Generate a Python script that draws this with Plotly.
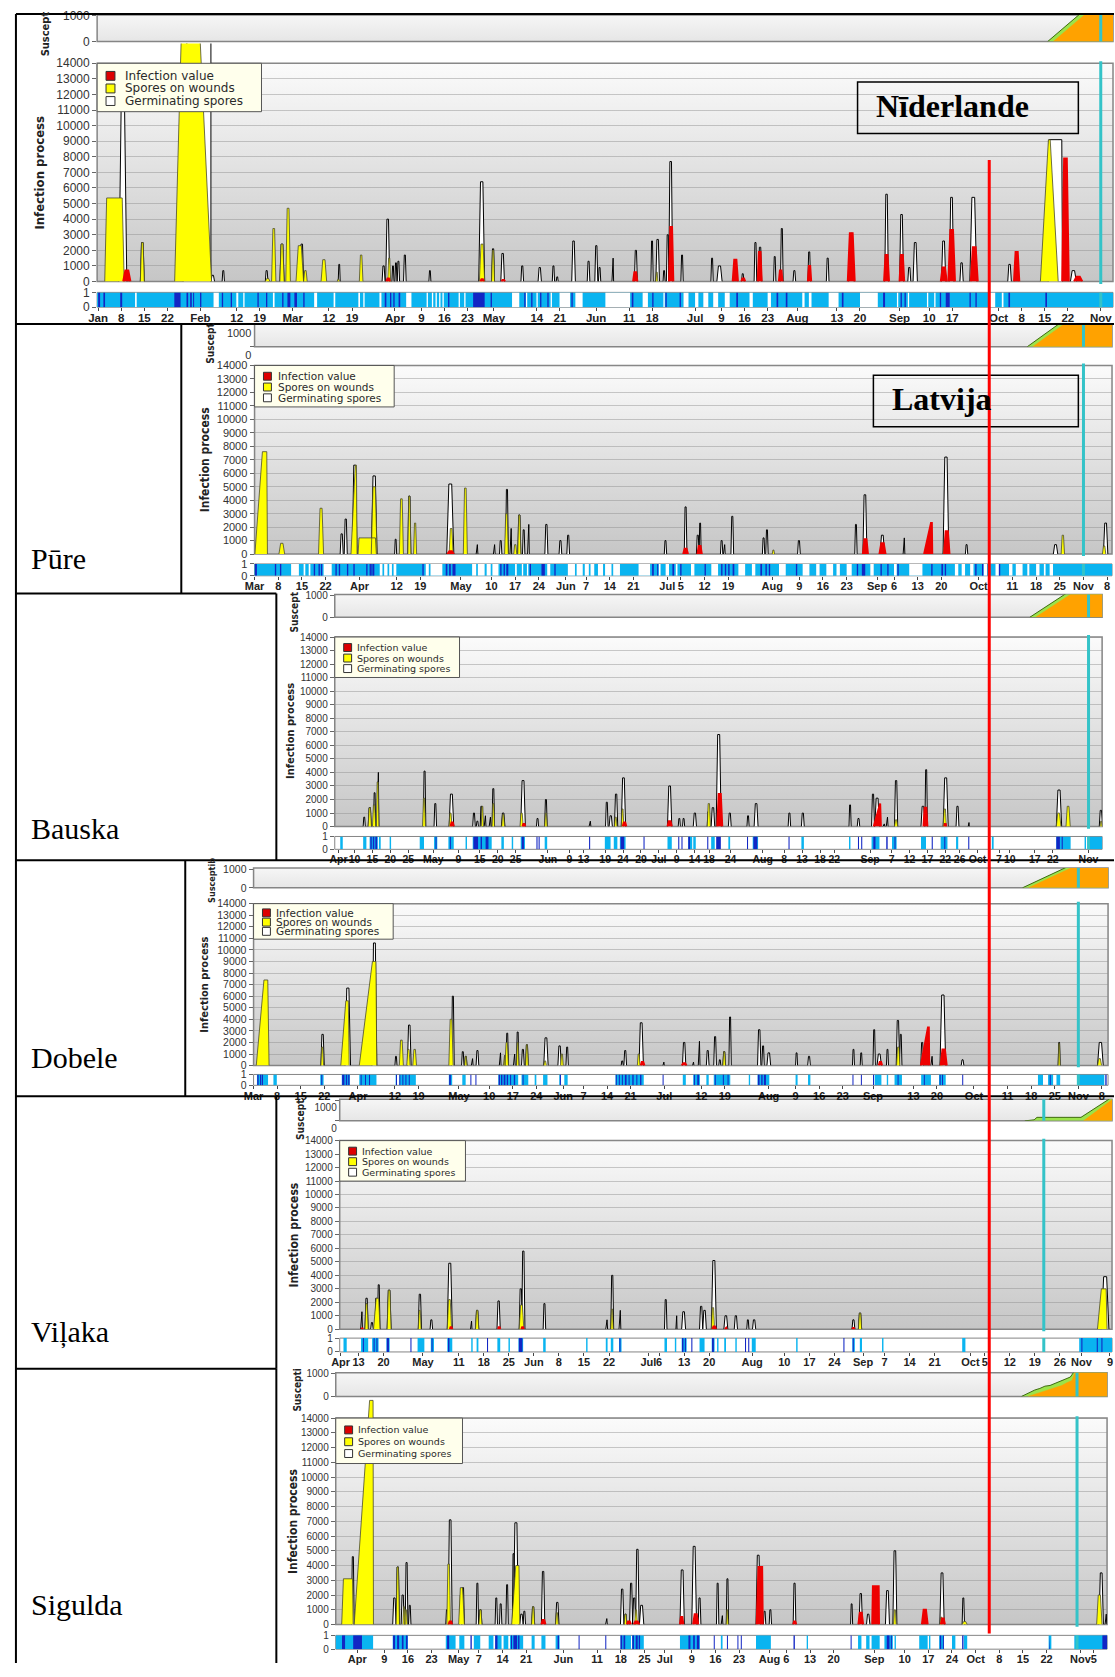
import base64
import pandas as pd
import plotly.graph_objects as go

# ======================= DATA =======================
# peaks: (start_day, end_day, height[, rise_frac, fall_frac]); days counted from panel base date
# ---------- Panel 1: Nīderlande (2007) ----------
P1_BASE = "2007-01-01"
P1_YELLOW = [(2.0, 7.9, 5360, 0.1, 0.1), (12.8, 14.0, 2500), (23.2, 34.4, 17500, 0.2, 0.35),
             (50.7, 52.1, 200), (52.6, 53.9, 3400), (55.1, 56.4, 2400), (56.9, 58.3, 4700),
             (60.0, 62.3, 2300), (62.3, 63.4, 700), (67.6, 69.3, 1400), (72.5, 73.2, 150),
             (79.2, 80.3, 1700), (87.8, 88.7, 1500), (115.6, 117.2, 2400), (119.3, 120.2, 2000),
             (169.1, 169.7, 600), (285.7, 291.1, 9100, 0.45, 0.45)]
P1_GERM = [(6.3, 8.7, 11800), (12.8, 14.0, 2500), (25.8, 34.2, 17500, 0.15, 0.0), (34.2, 35.3, 400),
           (37.6, 38.3, 700), (50.7, 51.5, 700), (55.1, 56.4, 2400), (61.2, 62.3, 2400),
           (72.8, 73.4, 1100), (86.1, 87.0, 1000), (87.2, 88.4, 4000), (89.1, 89.7, 1000),
           (90.0, 90.6, 1200), (90.7, 91.4, 1300), (92.6, 93.4, 1700), (100.3, 100.9, 700),
           (115.4, 117.2, 6400), (119.3, 120.2, 2100), (122.1, 123.2, 1800), (128.2, 129.0, 1000),
           (133.4, 134.4, 900), (137.7, 138.4, 1000), (138.9, 139.5, 300), (143.6, 144.7, 2600),
           (148.3, 149.1, 1300), (150.6, 151.5, 2300), (151.7, 152.4, 900), (155.8, 156.3, 1500),
           (162.6, 163.5, 2000), (167.6, 168.3, 2600), (169.1, 170.2, 2700), (171.3, 171.9, 700),
           (172.3, 173.1, 3000), (173.0, 174.2, 7700), (176.7, 177.4, 1700), (185.8, 186.5, 1500),
           (187.6, 189.2, 1000), (195.1, 195.8, 500), (198.9, 199.7, 2500), (200.2, 201.2, 2200),
           (204.8, 205.5, 1600), (206.9, 207.7, 3400), (210.7, 211.5, 700), (215.2, 216.0, 1900),
           (220.8, 221.6, 1500), (227.6, 229.2, 3100), (238.5, 239.6, 5600), (243.0, 244.2, 4300),
           (245.5, 246.4, 900), (247.1, 248.4, 2500), (255.7, 257.0, 2600), (258.1, 259.4, 5400),
           (261.3, 262.3, 1200), (264.3, 266.4, 5400), (275.8, 276.9, 1100),
           (288.1, 292.4, 9100, 0.05, 0.05), (294.8, 296.6, 700)]
P1_RED = [(7.6, 9.8, 700), (87.4, 88.5, 200), (115.9, 117.0, 150), (122.3, 123.4, 100),
          (162.2, 163.5, 600), (173.1, 174.4, 3500), (192.4, 194.0, 1400), (195.0, 196.2, 200),
          (200.0, 201.2, 1900), (206.4, 207.5, 700), (215.2, 216.2, 1000), (227.3, 229.4, 3100),
          (238.3, 239.8, 1700), (243.0, 244.4, 1700), (255.5, 257.3, 900), (257.8, 259.8, 3300),
          (264.6, 266.7, 2200), (277.7, 279.3, 1900), (292.3, 294.3, 7900), (295.9, 298.4, 300)]
P1_SUS_GREEN_DAY = [287.9, 297.9, 308.0]
P1_SUS_GREEN_VAL = [0, 1100, 1100]
P1_SUS_ORANGE_DAY = [289.6, 299.6, 308.0]
P1_SUS_ORANGE_VAL = [0, 1100, 1100]
P1_WET_LIGHT = [(-1, 309)]
P1_WET_WHITE = [(11.2, 11.7), (35, 36.6), (41.9, 42.5), (44, 44.4), (53, 53.5), (65.5, 66.4),
                (71.4, 71.9), (78.9, 79.4), (80.4, 80.8), (85.3, 85.9), (93.4, 95), (99.6, 100),
                (101.2, 101.6), (102.3, 102.7), (103.4, 103.8), (104.4, 104.8), (109.3, 109.7),
                (111, 111.4), (125.5, 127.7), (129.7, 130.1), (132.9, 133.3), (137.2, 137.6),
                (139.9, 143.1), (144.7, 146.9), (153.8, 161.3), (165.1, 166.7), (171.4, 171.8),
                (177.5, 179), (181, 182), (183.5, 185), (186.5, 188), (190, 191.5), (197.5, 198.5),
                (203, 204), (213.5, 214.2), (215.5, 216.3), (221.5, 224.5), (231, 236.4),
                (242.2, 242.6), (245.5, 245.9), (251.3, 251.7), (253.5, 253.9), (270, 272), (274, 274.5)]
P1_WET_DARK = [(0, 0.6), (1.6, 2.1), (6.7, 7.3), (23.1, 25.0), (26.8, 27.3), (27.9, 28.4), (28.8, 29.1),
               (30.9, 31.3), (37.5, 37.9), (40.2, 40.6), (48.3, 48.7), (50.9, 51.3), (55.8, 56.2),
               (57.4, 58.3), (59.5, 60.3), (62.2, 62.6), (86.9, 87.4), (88.5, 88.9), (89.5, 89.9),
               (91.1, 91.6), (106.1, 106.5), (113.7, 117.2), (119, 119.4), (129.2, 129.6),
               (131.3, 131.7), (134, 134.4), (136.2, 136.6), (143.5, 143.9), (161.8, 162.3),
               (168, 168.4), (172, 172.4), (176.3, 176.7), (193.5, 194), (205.7, 206.2), (208.5, 209),
               (225.5, 226), (238, 238.6), (243.3, 243.7), (244.5, 244.9), (255.2, 255.6),
               (257, 258.2), (264.2, 264.6), (266, 266.4), (276, 276.5), (287.2, 287.7)]
P1_TICK_DATES = ["2007-01-01", "2007-01-08", "2007-01-15", "2007-01-22", "2007-02-01", "2007-02-12",
                 "2007-02-19", "2007-03-01", "2007-03-12", "2007-03-19", "2007-04-01", "2007-04-09",
                 "2007-04-16", "2007-04-23", "2007-05-01", "2007-05-14", "2007-05-21", "2007-06-01",
                 "2007-06-11", "2007-06-18", "2007-07-01", "2007-07-09", "2007-07-16", "2007-07-23",
                 "2007-08-01", "2007-08-13", "2007-08-20", "2007-09-01", "2007-09-10", "2007-09-17",
                 "2007-10-01", "2007-10-08", "2007-10-15", "2007-10-22", "2007-11-01"]
P1_TICK_TEXT = ["Jan", "8", "15", "22", "Feb", "12", "19", "Mar", "12", "19", "Apr", "9", "16", "23",
                "May", "14", "21", "Jun", "11", "18", "Jul", "9", "16", "23", "Aug", "13", "20",
                "Sep", "10", "17", "Oct", "8", "15", "22", "Nov"]
P1_MARK = "2007-11-01"

# ---------- Panel 2: Pūre (2010) ----------
P2_BASE = "2010-03-01"
P2_YELLOW = [(0.1, 3.8, 7600, 0.6, 0.05), (7.2, 8.9, 800), (18.9, 20.4, 3400), (28.5, 30.3, 6600, 0.7, 0.1),
             (30.6, 36.0, 1200, 0.05, 0.05), (34.5, 36.2, 5000), (42.8, 44.0, 4100), (45.3, 46.2, 4300),
             (47.0, 47.9, 2300), (57.5, 58.7, 1900), (61.7, 62.9, 4900), (73.9, 75.0, 3000),
             (76.6, 77.5, 700), (77.8, 78.7, 2900), (153.0, 153.7, 300), (203.5, 204.5, 600),
             (238.4, 239.4, 1400), (250.6, 251.6, 600)]
P2_GERM = [(25.3, 26.2, 1500), (26.5, 27.4, 2600), (28.9, 30.3, 6600), (34.5, 36.2, 5800),
           (41.4, 42.0, 1100), (45.3, 46.2, 4300), (56.8, 58.9, 5200), (65.5, 66.0, 700),
           (70.6, 71.1, 700), (72.4, 73.1, 1000), (74.2, 75.0, 4800), (75.5, 76.0, 1900),
           (77.8, 78.7, 2900), (79.2, 79.9, 1800), (80.7, 81.2, 2200), (85.8, 86.7, 2200),
           (90.0, 90.8, 1000), (92.3, 93.1, 1400), (121.1, 121.8, 1000), (127.0, 127.8, 3500),
           (130.6, 131.4, 1400), (131.4, 132.0, 2300), (137.7, 138.4, 1000), (138.6, 139.1, 700),
           (140.8, 141.6, 2800), (150.1, 150.8, 1200), (151.1, 151.8, 1800), (160.5, 161.3, 1000),
           (177.4, 178.1, 2200), (179.8, 181.0, 4400), (184.9, 186.2, 1400), (191.7, 192.2, 1200),
           (203.5, 205.2, 7200), (210.1, 210.8, 700), (236.1, 237.4, 700), (250.9, 252.2, 2300)]
P2_RED = [(57.0, 58.9, 200), (126.7, 128.1, 400), (130.9, 132.2, 600), (179.8, 181.3, 1100),
          (184.7, 186.5, 800), (197.9, 200.3, 2300, 0.85, 0.05), (203.8, 205.4, 1700)]
P2_SUS_GREEN_DAY = [228.4, 238.2, 254.0]
P2_SUS_GREEN_VAL = [0, 1100, 1100]
P2_SUS_ORANGE_DAY = [230.0, 239.8, 254.0]
P2_SUS_ORANGE_VAL = [0, 1100, 1100]
P2_WET_LIGHT = [(-1, 255)]
P2_WET_WHITE = [(10.8, 13.1), (14.5, 15), (16, 16.5), (20.4, 22.8), (37, 37.8), (38.3, 39.3),
                (39.8, 40.6), (41.1, 41.9), (50.6, 51.5), (52, 55.5), (64.3, 65.5), (66, 68),
                (68.6, 69.8), (70.3, 72.1), (77, 77.5), (79, 79.4), (80.5, 80.9), (86.5, 87.4),
                (92.6, 94.7), (95.2, 97), (97.6, 98.8), (99.3, 100.4), (101.5, 103), (103.6, 105.5),
                (106, 108), (113.5, 116.9), (119.5, 120), (121.5, 122.5), (124.5, 125), (129, 130),
                (135, 137), (143, 145), (147, 148), (155, 157), (162, 164), (166, 167), (169, 171),
                (172, 173), (175, 176.5), (182, 183), (189, 189.8), (193.5, 197.4), (207, 208),
                (209, 210), (211.5, 212.5), (215.5, 216.5), (219, 220), (223, 224), (225, 227),
                (228.4, 229), (231, 232), (233.3, 233.8), (235, 236)]
P2_WET_DARK = [(0.1, 0.7), (6, 6.4), (7.5, 7.9), (17.5, 17.9), (18.9, 19.3), (19.6, 20), (23.9, 24.3),
               (24.9, 25.3), (27.3, 27.7), (29.2, 29.6), (33, 33.4), (34, 34.4), (34.5, 34.9),
               (35, 35.4), (49.6, 50), (56.5, 57), (57.5, 58), (58.5, 59.4), (72.6, 73), (73.6, 74),
               (74.4, 75), (81.3, 81.7), (84.8, 85.8), (88.6, 89), (117.5, 118), (119, 119.3),
               (123.5, 124), (125.8, 126.2), (133, 133.4), (137.9, 138.3), (139, 139.4), (140, 140.4),
               (141.3, 141.8), (149.5, 150), (151, 151.4), (152, 152.4), (160, 160.4), (178, 178.4),
               (179.5, 180.5), (185, 185.4), (187, 187.4), (190, 190.4), (200, 200.4), (203, 203.5),
               (204, 204.4), (213, 213.4), (215, 215.4), (220, 220.4)]
P2_TICK_DATES = ["2010-03-01", "2010-03-08", "2010-03-15", "2010-03-22", "2010-04-01", "2010-04-12",
                 "2010-04-19", "2010-05-01", "2010-05-10", "2010-05-17", "2010-05-24", "2010-06-01",
                 "2010-06-07", "2010-06-14", "2010-06-21", "2010-07-01", "2010-07-05", "2010-07-12",
                 "2010-07-19", "2010-08-01", "2010-08-09", "2010-08-16", "2010-08-23", "2010-09-01",
                 "2010-09-06", "2010-09-13", "2010-09-20", "2010-10-01", "2010-10-11", "2010-10-18",
                 "2010-10-25", "2010-11-01", "2010-11-08"]
P2_TICK_TEXT = ["Mar", "8", "15", "22", "Apr", "12", "19", "May", "10", "17", "24", "Jun", "7", "14",
                "21", "Jul", "5", "12", "19", "Aug", "9", "16", "23", "Sep", "6", "13", "20", "Oct",
                "11", "18", "25", "Nov", "8"]
P2_MARK = "2010-11-01"

# ---------- Panel 3: Bauska (2010) ----------
P3_BASE = "2010-04-10"
P3_YELLOW = [(3.8, 4.7, 1400), (5.0, 5.9, 1600), (6.1, 6.8, 3300), (19.0, 19.8, 2100), (26.4, 27.2, 1000),
             (35.4, 36.0, 1500), (38.4, 39.1, 1700), (41.1, 41.9, 900), (46.2, 47.1, 1000),
             (53.1, 53.8, 1000), (72.6, 73.3, 700), (74.5, 75.2, 1300), (98.5, 99.4, 1700),
             (150.8, 151.7, 500), (164.4, 165.3, 1300), (196.0, 197.3, 1000), (198.7, 199.9, 1500),
             (208.2, 208.8, 400)]
P3_GERM = [(2.4, 3.0, 700), (3.8, 4.7, 1400), (5.3, 5.9, 2500), (6.3, 6.8, 4000), (19.2, 19.9, 4100),
           (22.2, 22.9, 1700), (26.4, 27.7, 2400), (33.0, 33.7, 1000), (34.0, 34.6, 400),
           (35.1, 35.7, 1500), (36.2, 36.7, 800), (37.6, 38.1, 700), (38.4, 39.1, 2800),
           (41.0, 42.0, 1000), (46.4, 47.7, 3400), (50.8, 51.4, 600), (53.1, 53.8, 2000),
           (65.5, 66.0, 400), (70.1, 70.8, 1800), (71.1, 72.0, 800), (72.6, 73.5, 2400),
           (74.5, 75.7, 3600), (87.4, 88.6, 3000), (90.4, 91.0, 600), (91.6, 92.2, 600),
           (94.6, 95.5, 1000), (98.5, 99.1, 1100), (99.6, 100.6, 1400), (101.0, 102.4, 6800),
           (104.4, 105.2, 1000), (109.6, 110.2, 800), (111.6, 112.7, 1700), (121.1, 121.8, 1000),
           (124.8, 125.6, 1000), (138.1, 138.7, 1600), (140.4, 141.1, 600), (144.4, 145.2, 2400),
           (145.3, 146.6, 2100), (147.6, 148.1, 200), (148.5, 149.0, 700), (150.8, 151.7, 3400),
           (158.2, 159.3, 1500), (159.3, 160.0, 4200), (164.4, 165.8, 3600), (168.0, 168.8, 1500),
           (171.4, 171.7, 300), (196.0, 197.5, 2700), (208.0, 208.9, 1200)]
P3_RED = [(26.8, 27.7, 300), (46.9, 47.7, 200), (74.9, 75.9, 300), (87.4, 88.6, 400),
          (101.3, 102.7, 2400), (145.0, 147.0, 1700, 0.8, 0.1), (158.9, 160.0, 1400), (164.7, 165.3, 200)]
P3_SUS_GREEN_DAY = [188.6, 198.8, 210.0]
P3_SUS_GREEN_VAL = [0, 1100, 1100]
P3_SUS_ORANGE_DAY = [190.2, 200.4, 210.0]
P3_SUS_ORANGE_VAL = [0, 1100, 1100]
P3_WET_LIGHT = [(-4.0, -3.3), (2.4, 3.3), (4.2, 6.5), (6.8, 7.3), (9.8, 10.2), (18.2, 19.4), (22.2, 23.1),
                (26.2, 27.7), (31, 31.4), (33, 38.3), (41, 41.7), (43.9, 44.3), (46.4, 47.6),
                (53.1, 53.8), (69.9, 71.5), (72.4, 73.4), (74.1, 75.7), (87.4, 88.6), (93.2, 94.3),
                (94.6, 95.3), (99.6, 100.6), (104.4, 104.9), (111.2, 112.7), (124.8, 125.5),
                (138.1, 138.5), (144.4, 146.6), (150.1, 151.4), (158.2, 159.6), (163.7, 165.6),
                (168, 168.6), (178, 178.5), (196, 200), (203.9, 204.3), (205, 209)]
P3_WET_WHITE = []
P3_WET_DARK = [(4.4, 4.8), (5.1, 5.5), (5.8, 6.3), (22.6, 22.9), (26.6, 26.9), (33.2, 34.5), (35.2, 35.6),
               (36.6, 37.4), (46.7, 47.3), (50.8, 51.1), (51.4, 51.7), (65.5, 65.8), (74.3, 75.3),
               (80.7, 81.0), (90.4, 90.7), (91.3, 91.6), (93.2, 93.7), (98.5, 98.8), (101, 102.3),
               (109.6, 109.9), (111.4, 112.5), (121.2, 121.5), (140.6, 140.9), (141.5, 141.8),
               (144.9, 145.5), (148.5, 148.9), (150.8, 151.1), (161.2, 161.5), (164.7, 165),
               (171.4, 171.7), (196.0, 197.0), (197.5, 197.8)]
P3_TICK_DATES = ["2010-04-05T12:00", "2010-04-10", "2010-04-15", "2010-04-20", "2010-04-25", "2010-05-02",
                 "2010-05-09", "2010-05-15", "2010-05-20", "2010-05-25", "2010-06-03", "2010-06-09",
                 "2010-06-13", "2010-06-19", "2010-06-24", "2010-06-29", "2010-07-04", "2010-07-09",
                 "2010-07-14", "2010-07-18", "2010-07-24", "2010-08-02", "2010-08-08", "2010-08-13",
                 "2010-08-18", "2010-08-22", "2010-09-01", "2010-09-07", "2010-09-12", "2010-09-17",
                 "2010-09-22", "2010-09-26", "2010-10-01", "2010-10-07", "2010-10-10", "2010-10-17",
                 "2010-10-22", "2010-11-01"]
P3_TICK_TEXT = ["Apr", "10", "15", "20", "25", "May", "9", "15", "20", "25", "Jun", "9", "13", "19",
                "24", "29", "Jul", "9", "14", "18", "24", "Aug", "8", "13", "18", "22", "Sep", "7",
                "12", "17", "22", "26", "Oct", "7", "10", "17", "22", "Nov"]
P3_MARK = "2010-11-01"

# ---------- Panel 4: Dobele (2010) ----------
P4_BASE = "2010-03-01"
P4_YELLOW = [(0.8, 4.6, 7400, 0.6, 0.1), (20.0, 20.8, 1600), (25.9, 28.4, 5600, 0.6, 0.1),
             (31.4, 36.6, 9000, 0.75, 0.05), (43.3, 44.5, 2200), (45.5, 46.5, 1400), (47.3, 48.4, 1400),
             (58.0, 59.3, 4000), (62.7, 63.4, 800), (74.2, 74.7, 900), (74.7, 75.7, 2000),
             (78.1, 78.8, 2000), (80.8, 81.6, 1800), (86.2, 87.0, 400), (91.2, 92.0, 1000),
             (114.0, 114.8, 1000), (139.4, 140.2, 1200), (191.0, 192.0, 1600), (203.9, 204.6, 600),
             (239.0, 239.6, 1900), (250.7, 251.9, 600)]
P4_GERM = [(20.0, 21.0, 2700), (27.2, 28.8, 6700), (35.2, 36.6, 10600), (42.0, 42.6, 800),
           (45.7, 46.8, 3500), (58.8, 59.6, 6000), (61.8, 62.5, 1200), (62.7, 63.4, 800),
           (64.7, 65.2, 600), (66.1, 66.9, 1300), (73.0, 73.5, 1100), (75.0, 75.7, 2800),
           (77.2, 77.7, 1000), (78.1, 78.8, 2900), (79.6, 80.4, 1400), (80.8, 81.6, 1800),
           (86.2, 87.5, 2400), (90.4, 91.4, 1700), (92.8, 93.5, 1600), (109.2, 109.8, 400),
           (110.0, 110.8, 1300), (114.5, 115.8, 3700), (121.6, 122.0, 300), (127.4, 128.4, 2000),
           (130.4, 130.8, 300), (132.1, 132.6, 2100), (134.5, 135.3, 1300), (136.7, 137.5, 2500),
           (138.2, 138.8, 500), (139.4, 140.2, 1200), (141.2, 141.9, 4200), (149.7, 150.7, 3100),
           (151.0, 151.7, 1700), (152.5, 153.6, 1100), (161.0, 161.6, 1100), (164.6, 165.4, 800),
           (177.9, 178.5, 1400), (180.2, 180.8, 1100), (184.0, 184.7, 3100), (185.2, 186.5, 1000),
           (188.0, 188.6, 1400), (190.9, 191.9, 3900), (191.9, 192.6, 2700), (198.2, 199.0, 2000),
           (201.2, 201.7, 800), (203.9, 205.6, 6100), (210.2, 211.0, 500), (239.0, 239.6, 2000),
           (250.7, 252.4, 2000)]
P4_RED = [(115.0, 116.1, 300), (127.2, 128.6, 200), (185.7, 186.7, 300),
          (198.2, 200.7, 3300, 0.85, 0.05), (204.1, 205.9, 1400)]
P4_SUS_GREEN_DAY = [228.4, 241.5, 255.0]
P4_SUS_GREEN_VAL = [0, 1100, 1100]
P4_SUS_ORANGE_DAY = [230.2, 243.3, 255.0]
P4_SUS_ORANGE_VAL = [0, 1100, 1100]
P4_WET_LIGHT = [(1, 4.3), (5.9, 6.9), (19.8, 20.8), (26.2, 28.6), (31.4, 36.5), (42.2, 42.6), (43.3, 48.2),
                (58, 59), (62, 63), (72.7, 78.6), (79.6, 81.6), (83.5, 84), (86, 87.3), (90.8, 91.3),
                (92.3, 93.3), (107.5, 115.9), (127.5, 128.4), (130.6, 132.6), (134.5, 135.2),
                (136.7, 141.6), (147.1, 147.5), (149.7, 153.2), (161, 161.6), (164.7, 165.4),
                (184.5, 186.5), (188.1, 188.5), (190.4, 192.6), (198.3, 201.2), (203.6, 205.6),
                (233, 234.5), (236, 237.5), (238.5, 239.6), (244.8, 252.7)]
P4_WET_WHITE = []
P4_WET_DARK = [(1.1, 1.5), (1.9, 2.3), (2.5, 2.8), (20.1, 20.4), (26.3, 27), (27.4, 27.8), (28.1, 28.5),
               (31.8, 32.1), (33.1, 33.4), (34.3, 34.6), (42.3, 42.6), (43.3, 43.6), (44.2, 44.5),
               (45.1, 45.4), (46.1, 46.4), (58.1, 58.6), (64.4, 64.7), (65.9, 66.2), (72.8, 73.2),
               (73.5, 73.9), (74.3, 74.8), (75.2, 75.6), (76.2, 76.5), (77.3, 77.7), (79.9, 80.2),
               (91, 91.3), (107.6, 107.9), (108.5, 108.8), (109.4, 109.7), (110.3, 110.8),
               (111.4, 111.7), (112.5, 112.9), (113.7, 114), (114.8, 115.2), (121.5, 121.8),
               (130.8, 131.1), (131.8, 132.3), (137, 137.3), (139.4, 139.7), (140.8, 141.1),
               (149.8, 150.3), (150.8, 151.2), (151.6, 152.2), (177.9, 178.2), (180.4, 180.7),
               (184, 184.3), (191.3, 191.6), (199.1, 199.4), (203.8, 204.1), (204.5, 204.8),
               (210.5, 210.8), (236.5, 236.8), (253, 253.4)]
P4_TICK_DATES = ["2010-03-01", "2010-03-08", "2010-03-15", "2010-03-22", "2010-04-01", "2010-04-12",
                 "2010-04-19", "2010-05-01", "2010-05-10", "2010-05-17", "2010-05-24", "2010-06-01",
                 "2010-06-07", "2010-06-14", "2010-06-21", "2010-07-01", "2010-07-12", "2010-07-19",
                 "2010-08-01", "2010-08-09", "2010-08-16", "2010-08-23", "2010-09-01", "2010-09-13",
                 "2010-09-20", "2010-10-01", "2010-10-11", "2010-10-18", "2010-10-25", "2010-11-01",
                 "2010-11-08"]
P4_TICK_TEXT = ["Mar", "8", "15", "22", "Apr", "12", "19", "May", "10", "17", "24", "Jun", "7", "14",
                "21", "Jul", "12", "19", "Aug", "9", "16", "23", "Sep", "13", "20", "Oct", "11", "18",
                "25", "Nov", "8"]
P4_MARK = "2010-11-01"

# ---------- Panel 5: Viļaka (2009) ----------
P5_BASE = "2009-04-13"
P5_YELLOW = [(1.8, 2.7, 1900), (4.2, 6.0, 2300, 0.4, 0.2), (8.0, 9.1, 2900), (16.7, 17.5, 1400),
             (24.8, 26.0, 2200), (32.7, 33.6, 1400), (44.9, 46.2, 1800), (70.5, 71.2, 1500),
             (98.6, 99.5, 1600), (139.7, 140.6, 1200), (206.5, 209.2, 3000, 0.4, 0.1)]
P5_GERM = [(0.6, 1.1, 1300), (1.8, 2.7, 2300), (3.4, 4.1, 500), (4.6, 5.3, 2300), (5.3, 6.0, 3300),
           (8.0, 9.1, 2900), (16.7, 17.6, 2600), (20.0, 20.7, 700), (24.8, 26.2, 4900),
           (31.3, 31.7, 600), (32.7, 33.6, 1400), (38.7, 39.6, 2100), (44.9, 45.8, 3000),
           (45.6, 46.5, 5800), (51.6, 52.3, 1900), (69.1, 69.6, 700), (70.5, 71.3, 4000),
           (72.8, 73.3, 1400), (85.5, 86.2, 2200), (88.7, 89.0, 1000), (90.3, 91.4, 1300),
           (95.3, 96.2, 1700), (96.2, 97.2, 1400), (98.6, 100.0, 5100), (102.1, 103.2, 1000),
           (105.0, 105.9, 1000), (108.5, 109.1, 700), (110.1, 111.0, 700), (137.9, 138.7, 700),
           (139.7, 140.6, 1200), (207.6, 209.7, 3900)]
P5_RED = [(0.8, 1.2, 100), (25.5, 26.2, 150), (39.0, 39.6, 150), (45.5, 46.2, 150), (98.9, 99.9, 200),
          (102.4, 102.9, 100), (138.0, 138.6, 100)]
P5_SUS_GREEN_DAY = [186.2, 188.8, 189.6, 201.9, 210.2, 212.0]
P5_SUS_GREEN_VAL = [0, 50, 170, 170, 1100, 1100]
P5_SUS_ORANGE_DAY = [202.6, 211.2, 212.0]
P5_SUS_ORANGE_VAL = [0, 1100, 1100]
P5_WET_LIGHT = [(-4.2, -3.3), (0.7, 2.7), (3.8, 5.6), (7.8, 8.7), (16.5, 18.4), (20.2, 21.1), (24.8, 26.2),
                (31.5, 31.9), (33, 33.5), (38.8, 39.6), (41.9, 42.3), (44.7, 46), (51.6, 52.3),
                (63.6, 64), (69.1, 69.6), (70.5, 71.2), (72.8, 73.5), (85.5, 86.2), (88.4, 88.8),
                (90.3, 91.7), (95.3, 96.7), (98.7, 99.5), (100.2, 100.6), (102.2, 102.7),
                (105.3, 105.7), (109.9, 111), (122.3, 122.7), (138, 138.7), (140.1, 140.7),
                (146.3, 146.7), (168.7, 169.6), (201.4, 212)]
P5_WET_WHITE = []
P5_WET_DARK = [(1.2, 1.5), (4.2, 4.5), (5, 5.3), (7.9, 8.5), (14.5, 14.8), (20.4, 20.7), (25, 25.4),
               (35.9, 36.2), (44.8, 45.8), (72.9, 73.2), (90.4, 90.8), (91.2, 91.5), (93, 93.3),
               (98.8, 99.3), (108, 108.3), (108.9, 109.2), (135.5, 135.8), (138.1, 138.4),
               (202, 202.3), (206.3, 206.6), (207.6, 207.9)]
P5_TICK_DATES = ["2009-04-08", "2009-04-13", "2009-04-20", "2009-05-01", "2009-05-11", "2009-05-18",
                 "2009-05-25", "2009-06-01", "2009-06-08", "2009-06-15", "2009-06-22", "2009-07-03",
                 "2009-07-06", "2009-07-13", "2009-07-20", "2009-08-01", "2009-08-10", "2009-08-17",
                 "2009-08-24", "2009-09-01", "2009-09-07", "2009-09-14", "2009-09-21", "2009-10-01",
                 "2009-10-05", "2009-10-12", "2009-10-19", "2009-10-26", "2009-11-01", "2009-11-09"]
P5_TICK_TEXT = ["Apr", "13", "20", "May", "11", "18", "25", "Jun", "8", "15", "22", "Jul", "6", "13",
                "20", "Aug", "10", "17", "24", "Sep", "7", "14", "21", "Oct", "5", "12", "19", "26",
                "Nov", "9"]
P5_MARK = "2009-10-21T12:00"

# ---------- Panel 6: Sigulda (2007) ----------
P6_BASE = "2007-04-09"
P6_YELLOW = [(-12.6, -9.2, 3100, 0.15, 0.05), (-8.9, -3.2, 15200, 0.8, 0.02), (3.5, 4.5, 3900),
             (5.5, 6.2, 1200), (6.0, 6.8, 1000), (18.5, 19.6, 4100), (22.0, 23.7, 2500),
             (28.0, 28.9, 1000), (37.7, 40.1, 4000, 0.5, 0.1), (43.6, 44.5, 1200), (50.7, 51.5, 800),
             (71.0, 71.8, 700), (74.1, 74.9, 1000), (101.2, 101.8, 1000), (150.7, 151.5, 1000),
             (164.4, 165.2, 500), (171.0, 172.5, 200), (210.8, 212.4, 2000)]
P6_GERM = [(-9.7, -8.9, 4600), (2.5, 3.5, 1800), (3.5, 4.5, 3900), (5.0, 5.9, 2000), (6.2, 7.0, 4200),
           (7.2, 7.9, 1300), (18.2, 18.9, 1000), (18.9, 20.1, 7100), (22.3, 23.0, 2000),
           (22.9, 23.7, 2500), (27.2, 27.9, 2800), (28.0, 28.9, 1000), (32.8, 33.5, 1800),
           (34.1, 34.8, 1400), (36.0, 36.7, 2700), (37.9, 38.6, 4800), (38.2, 39.7, 6900),
           (40.1, 41.1, 700), (41.1, 41.8, 900), (43.6, 44.5, 1200), (46.5, 47.5, 3600),
           (50.7, 51.7, 1500), (65.5, 66.0, 400), (69.9, 70.9, 2400), (71.0, 71.8, 700),
           (72.6, 73.5, 2800), (73.5, 74.4, 1800), (74.4, 75.4, 5100), (75.5, 76.8, 1300),
           (87.5, 88.8, 3700), (91.0, 92.4, 5300), (92.9, 93.7, 1800), (98.3, 99.0, 2800),
           (99.7, 100.2, 600), (101.2, 101.9, 3100), (110.0, 111.3, 4700), (112.2, 112.9, 900),
           (113.9, 114.6, 1000), (121.0, 121.8, 2800), (138.0, 138.6, 1400), (140.5, 141.5, 2100),
           (142.7, 143.7, 700), (148.3, 149.5, 2300), (150.5, 151.7, 5000), (164.4, 165.7, 3500),
           (171.0, 171.7, 1800), (211.5, 212.8, 3500), (213.3, 213.8, 700)]
P6_RED = [(19.0, 20.1, 200), (46.5, 47.7, 300), (71.8, 73.0, 200), (73.8, 75.5, 200), (87.5, 88.5, 500),
          (91.4, 92.9, 700), (110.2, 112.0, 3900, 0.3, 0.1), (121.0, 121.9, 200), (140.3, 141.7, 800),
          (144.4, 146.4, 2600, 0.1, 0.05), (159.1, 160.8, 1000), (164.7, 165.9, 400)]
P6_SUS_GREEN_DAY = [188.6, 190.5, 192.5, 194.0, 195.5, 197.0, 198.5, 200.0, 201.5, 203.0, 204.2, 215.0]
P6_SUS_GREEN_VAL = [0, 150, 280, 350, 450, 480, 580, 650, 780, 850, 1100, 1100]
P6_SUS_ORANGE_DAY = [190.5, 192.5, 194.5, 196.0, 197.5, 199.0, 200.5, 202.0, 203.5, 204.5, 215.0]
P6_SUS_ORANGE_VAL = [0, 100, 200, 280, 330, 420, 480, 600, 700, 1100, 1100]
P6_WET_LIGHT = [(-14.5, -3.3), (2.5, 7), (18.2, 21.1), (22.2, 23.7), (26.5, 28.4), (30.9, 32.3), (33, 34.7),
                (35.3, 36.7), (37.2, 41.1), (43.6, 44.5), (46.5, 47.7), (50.7, 51.9), (69.9, 71.5),
                (71.5, 73), (73.3, 75.8), (75.8, 76.8), (87.5, 90), (90, 93.4), (99.6, 100.1),
                (110, 114.4), (125, 125.4), (140.2, 141.2), (142.6, 143.6), (144.2, 146.6),
                (148, 150.5), (151, 151.4), (158.3, 160.8), (161.2, 161.6), (164.2, 165.6), (168, 169),
                (171.5, 172.5), (196.6, 197.4), (204.2, 215)]
P6_WET_WHITE = []
P6_WET_DARK = [(-12.5, -11.6), (-9.2, -6.6), (2.6, 3.2), (3.8, 4.4), (5.2, 5.7), (6.4, 6.9), (18.6, 19.2),
               (25.5, 25.9), (32.8, 33.5), (37.5, 37.8), (38.2, 39.3), (39.6, 40), (51.3, 51.7),
               (57.5, 57.8), (65.4, 65.7), (69.9, 70.4), (70.8, 71.3), (73.4, 73.9), (74.4, 75),
               (75.3, 75.7), (90, 90.6), (91.4, 91.9), (92.5, 93.2), (97.5, 97.8), (101.4, 101.7),
               (104.5, 104.8), (105.5, 105.8), (121.1, 121.5), (138, 138.3), (148.7, 149.5),
               (149.9, 150.2), (164.4, 164.8), (165.3, 165.6), (171, 171.4), (196.8, 197),
               (212.5, 214.5)]
P6_TICK_DATES = ["2007-04-01", "2007-04-09", "2007-04-16", "2007-04-23", "2007-05-01", "2007-05-07",
                 "2007-05-14", "2007-05-21", "2007-06-01", "2007-06-11", "2007-06-18", "2007-06-25",
                 "2007-07-01", "2007-07-09", "2007-07-16", "2007-07-23", "2007-08-01", "2007-08-06",
                 "2007-08-13", "2007-08-20", "2007-09-01", "2007-09-10", "2007-09-17", "2007-09-24",
                 "2007-10-01", "2007-10-08", "2007-10-15", "2007-10-22", "2007-11-01", "2007-11-05"]
P6_TICK_TEXT = ["Apr", "9", "16", "23", "May", "7", "14", "21", "Jun", "11", "18", "25", "Jul", "9",
                "16", "23", "Aug", "6", "13", "20", "Sep", "10", "17", "24", "Oct", "8", "15", "22",
                "Nov", "5"]
P6_MARK = "2007-10-31"

ROW_LABELS = ["Pūre", "Bauska", "Dobele", "Viļaka", "Sigulda"]
LEGEND_TEXT = ["Infection value", "Spores on wounds", "Germinating spores"]
BOX_LABELS = ["Nīderlande", "Latvija"]
MAIN_TICKS = list(range(0, 14001, 1000))

# ======================= LAYOUT GEOMETRY (page pixels) =======================
W, H = 1115, 1677
GEOM = [
    dict(xl=88, xr=1114, x0=89, ppd=3.331, st=9, sb=35, mt=57, mb=278, bt=289, bb=304,
         leg=(88, 57, 254, 106), lfont=12, sq=9, ldx=26, yfont=12, xfont=11.5, slab="outside",
         ip=(30, 168, 13), su=(36, 27, 11, "Suscept")),
    dict(xl=247, xr=1113, x0=247, ppd=3.417, st=322, sb=344, mt=363, mb=554, bt=564, bb=576,
         leg=(247, 363, 388, 405), lfont=10.5, sq=8, ldx=22, yfont=11, xfont=11, slab="outside bottom",
         ip=(197, 459, 12), su=(203, 340, 10, "Suscept")),
    dict(xl=328, xr=1103, x0=348, ppd=3.616, st=596, sb=618, mt=638, mb=830, bt=840, bb=853,
         leg=(328, 638, 454, 679), lfont=9.5, sq=8, ldx=20, yfont=10, xfont=10.5, slab="outside",
         ip=(284, 733, 11), su=(287, 613, 10, "Suscept")),
    dict(xl=246, xr=1109, x0=246, ppd=3.40, st=873, sb=892, mt=908, mb=1072, bt=1081, bb=1092,
         leg=(246, 908, 387, 944), lfont=10.5, sq=8, ldx=21, yfont=10.5, xfont=11, slab="outside",
         ip=(197, 990, 11), su=(204, 884, 9, "Susceptib")),
    dict(xl=333, xr=1113, x0=352, ppd=3.614, st=1107, sb=1128, mt=1148, mb=1339, bt=1348, bb=1362,
         leg=(333, 1148, 460, 1189), lfont=9.5, sq=8, ldx=20, yfont=10, xfont=11, slab="outside bottom",
         ip=(287, 1244, 12), su=(294, 1127, 10, "Suscept")),
    dict(xl=329, xr=1108, x0=378, ppd=3.413, st=1384, sb=1407, mt=1429, mb=1638, bt=1649, bb=1663,
         leg=(329, 1429, 457, 1475), lfont=9.5, sq=8, ldx=20, yfont=10, xfont=11, slab="outside",
         ip=(286, 1534, 12), su=(290, 1400, 10, "Suscepti")),
]
DATA = [
    (P1_BASE, P1_YELLOW, P1_GERM, P1_RED, P1_SUS_GREEN_DAY, P1_SUS_GREEN_VAL, P1_SUS_ORANGE_DAY,
     P1_SUS_ORANGE_VAL, P1_WET_LIGHT, P1_WET_WHITE, P1_WET_DARK, P1_TICK_DATES, P1_TICK_TEXT, P1_MARK),
    (P2_BASE, P2_YELLOW, P2_GERM, P2_RED, P2_SUS_GREEN_DAY, P2_SUS_GREEN_VAL, P2_SUS_ORANGE_DAY,
     P2_SUS_ORANGE_VAL, P2_WET_LIGHT, P2_WET_WHITE, P2_WET_DARK, P2_TICK_DATES, P2_TICK_TEXT, P2_MARK),
    (P3_BASE, P3_YELLOW, P3_GERM, P3_RED, P3_SUS_GREEN_DAY, P3_SUS_GREEN_VAL, P3_SUS_ORANGE_DAY,
     P3_SUS_ORANGE_VAL, P3_WET_LIGHT, P3_WET_WHITE, P3_WET_DARK, P3_TICK_DATES, P3_TICK_TEXT, P3_MARK),
    (P4_BASE, P4_YELLOW, P4_GERM, P4_RED, P4_SUS_GREEN_DAY, P4_SUS_GREEN_VAL, P4_SUS_ORANGE_DAY,
     P4_SUS_ORANGE_VAL, P4_WET_LIGHT, P4_WET_WHITE, P4_WET_DARK, P4_TICK_DATES, P4_TICK_TEXT, P4_MARK),
    (P5_BASE, P5_YELLOW, P5_GERM, P5_RED, P5_SUS_GREEN_DAY, P5_SUS_GREEN_VAL, P5_SUS_ORANGE_DAY,
     P5_SUS_ORANGE_VAL, P5_WET_LIGHT, P5_WET_WHITE, P5_WET_DARK, P5_TICK_DATES, P5_TICK_TEXT, P5_MARK),
    (P6_BASE, P6_YELLOW, P6_GERM, P6_RED, P6_SUS_GREEN_DAY, P6_SUS_GREEN_VAL, P6_SUS_ORANGE_DAY,
     P6_SUS_ORANGE_VAL, P6_WET_LIGHT, P6_WET_WHITE, P6_WET_DARK, P6_TICK_DATES, P6_TICK_TEXT, P6_MARK),
]


# ======================= helpers =======================
def fx(px):
    return px / W


def fy(py):
    return 1 - py / H


def day2iso(base, d):
    return (pd.Timestamp(base) + pd.Timedelta(days=float(d))).isoformat()


def peak_xy(base, peaks):
    xs, ys = [], []
    for p in peaks:
        s, e, h = p[0], p[1], p[2]
        r = p[3] if len(p) > 3 else 0.3
        f = p[4] if len(p) > 4 else 0.3
        w = e - s
        for d, v in ((s, 0), (s + r * w, h), (e - f * w, h), (e, 0)):
            xs.append(day2iso(base, d))
            ys.append(v)
        xs.append(None)
        ys.append(None)
    return xs, ys


def band_xy(base, intervals):
    xs, ys = [], []
    for s, e in intervals:
        for d, v in ((s, 0), (s, 1), (e, 1), (e, 0)):
            xs.append(day2iso(base, d))
            ys.append(v)
        xs.append(None)
        ys.append(None)
    return xs, ys


def grad(top, bot):
    svg = ('<svg xmlns="http://www.w3.org/2000/svg" width="20" height="200" viewBox="0 0 20 200" '
           'preserveAspectRatio="none"><defs><linearGradient id="g" x1="0" y1="0" x2="0" y2="1">'
           f'<stop offset="0" stop-color="{top}"/><stop offset="1" stop-color="{bot}"/>'
           '</linearGradient></defs><rect width="20" height="200" fill="url(#g)"/></svg>')
    return "data:image/svg+xml;base64," + base64.b64encode(svg.encode()).decode()


def sfx(k):
    return "" if k == 1 else str(k)


LIGHT_BLUE = "#0AB4F0"
DARK_BLUE = "#1226C4"
TEAL = "#34C3C8"
AXFONT = "Liberation Sans, Arial, sans-serif"
NARROW = "Liberation Sans Narrow, DejaVu Sans Condensed, Arial Narrow, sans-serif"

fig = go.Figure()
layout = dict(width=W, height=H, autosize=False, margin=dict(l=0, r=0, t=0, b=0, pad=0),
              paper_bgcolor="white", plot_bgcolor="rgba(0,0,0,0)", showlegend=False)
shapes, annotations, images = [], [], []

for i, (g, d) in enumerate(zip(GEOM, DATA)):
    (base, yel, germ, red, sgd, sgv, sod, sov, wl, ww, wd, tdates, ttext, mark) = d
    ks, km, kb = 3 * i + 1, 3 * i + 2, 3 * i + 3
    xlo = day2iso(base, (g["xl"] - g["x0"]) / g["ppd"])
    xhi = day2iso(base, (g["xr"] - g["x0"]) / g["ppd"])
    main_top = g["sb"] + 2
    main_max = 14000 * (g["mb"] - main_top) / (g["mb"] - g["mt"])
    sus_max = 1000 * (g["sb"] - (g["st"] - 1)) / (g["sb"] - g["st"])

    for k in (ks, km, kb):
        xa = dict(type="date", range=[xlo, xhi], domain=[fx(g["xl"]), fx(g["xr"])], anchor="y" + sfx(k),
                  showgrid=False, zeroline=False, showline=False, showticklabels=False, ticks="")
        if k == kb:
            xa.update(showticklabels=True, tickvals=tdates, ticktext=ttext, ticks="outside", ticklen=3,
                      tickcolor="#444", tickangle=0, ticklabelstandoff=-3,
                      tickfont=dict(family=AXFONT, size=g["xfont"], color="#222", weight="bold"))
        layout["xaxis" + sfx(k)] = xa

    yfont = dict(family=AXFONT, size=g["yfont"], color="#333")
    layout["yaxis" + sfx(ks)] = dict(domain=[fy(g["sb"]), fy(g["st"] - 1)], anchor="x" + sfx(ks),
                                     range=[0, sus_max], tickvals=[0, 1000], ticktext=["0", "1000"],
                                     ticks="outside", ticklen=4, tickcolor="#666", showgrid=True,
                                     ticklabelposition=g["slab"],
                                     gridcolor="rgba(140,140,140,0.45)", zeroline=False, tickfont=yfont)
    layout["yaxis" + sfx(km)] = dict(domain=[fy(g["mb"]), fy(main_top)], anchor="x" + sfx(km),
                                     range=[0, main_max], tickvals=MAIN_TICKS,
                                     ticktext=[str(v) for v in MAIN_TICKS],
                                     ticks="outside", ticklen=4, tickcolor="#666", showgrid=True,
                                     gridcolor="rgba(140,140,140,0.45)", zeroline=False, tickfont=yfont)
    layout["yaxis" + sfx(kb)] = dict(domain=[fy(g["bb"]), fy(g["bt"])], anchor="x" + sfx(kb),
                                     range=[0, 1], tickvals=[0, 1], ticktext=["0", "1"], ticks="outside",
                                     ticklen=4, tickcolor="#666", showgrid=False, zeroline=False,
                                     tickfont=yfont)

    # backgrounds
    images.append(dict(source=grad("#fbfbfb", "#c6c6c6"), xref="paper", yref="paper", x=fx(g["xl"]),
                       y=fy(g["mt"]), sizex=(g["xr"] - g["xl"]) / W, sizey=(g["mb"] - g["mt"]) / H,
                       xanchor="left", yanchor="top", sizing="stretch", layer="below"))
    images.append(dict(source=grad("#f6f6f6", "#e6e6e6"), xref="paper", yref="paper", x=fx(g["xl"]),
                       y=fy(g["st"] - 1), sizex=(g["xr"] - g["xl"]) / W, sizey=(g["sb"] - g["st"] + 1) / H,
                       xanchor="left", yanchor="top", sizing="stretch", layer="below"))

    # susceptibility
    fig.add_trace(go.Scatter(x=[day2iso(base, v) for v in sgd], y=sgv, xaxis="x" + sfx(ks), yaxis="y" + sfx(ks),
                             mode="lines", fill="tozeroy", fillcolor="#9BE34A",
                             line=dict(color="#3E6B10", width=1), hoverinfo="skip"))
    fig.add_trace(go.Scatter(x=[day2iso(base, v) for v in sod], y=sov, xaxis="x" + sfx(ks), yaxis="y" + sfx(ks),
                             mode="lines", fill="tozeroy", fillcolor="#FFA200",
                             line=dict(color="#FFA200", width=0.5), hoverinfo="skip"))

    # infection process
    gx, gy = peak_xy(base, germ)
    fig.add_trace(go.Scatter(x=gx, y=gy, xaxis="x" + sfx(km), yaxis="y" + sfx(km), mode="lines", fill="toself",
                             fillcolor="white", line=dict(color="black", width=1), hoverinfo="skip"))
    yx, yy = peak_xy(base, yel)
    fig.add_trace(go.Scatter(x=yx, y=yy, xaxis="x" + sfx(km), yaxis="y" + sfx(km), mode="lines", fill="toself",
                             fillcolor="#FFFF00", line=dict(color="#4a4a30", width=0.8), hoverinfo="skip"))
    rx, ry = peak_xy(base, red)
    fig.add_trace(go.Scatter(x=rx, y=ry, xaxis="x" + sfx(km), yaxis="y" + sfx(km), mode="lines", fill="toself",
                             fillcolor="#EE0000", line=dict(color="#EE0000", width=2), hoverinfo="skip"))

    # wetness band
    for ints, col in ((wl, LIGHT_BLUE), (ww, "white"), (wd, DARK_BLUE)):
        if not ints:
            continue
        bx, by = band_xy(base, ints)
        fig.add_trace(go.Scatter(x=bx, y=by, xaxis="x" + sfx(kb), yaxis="y" + sfx(kb), mode="lines",
                                 fill="toself", fillcolor=col, line=dict(width=0), hoverinfo="skip"))

    # frames (paper coordinates)
    for (t, b, wdt) in ((g["mt"], g["mb"], 1.5), (g["st"] - 1, g["sb"], 1.5), (g["bt"], g["bb"], 1)):
        shapes.append(dict(type="rect", xref="paper", yref="paper", x0=fx(g["xl"]), x1=fx(g["xr"]),
                           y0=fy(b), y1=fy(t), line=dict(color="#858585", width=wdt), layer="below"))
    # teal marker line
    main_frac = (g["mb"] - g["mt"] + 2) / (g["mb"] - main_top)
    for k, y0, y1 in ((ks, 0, 1), (km, -0.01, main_frac), (kb, 0, 1)):
        shapes.append(dict(type="line", xref="x" + sfx(k), yref="y" + sfx(k) + " domain", x0=mark, x1=mark,
                           y0=y0, y1=y1, line=dict(color=TEAL, width=3), layer="above"))

    # legend box
    lx1, ly1, lx2, ly2 = g["leg"]
    shapes.append(dict(type="rect", xref="paper", yref="paper", x0=fx(lx1), x1=fx(lx2), y0=fy(ly2), y1=fy(ly1),
                       fillcolor="#FFFFEC", line=dict(color="#555555", width=1), layer="above"))
    for j, (txt, col) in enumerate(zip(LEGEND_TEXT, ["#DD0000", "#FFFF00", "#FFFFFF"])):
        ry_ = ly1 + (0.26 + 0.26 * j) * (ly2 - ly1)
        sq = g["sq"]
        shapes.append(dict(type="rect", xref="paper", yref="paper", x0=fx(lx1 + 9), x1=fx(lx1 + 9 + sq),
                           y0=fy(ry_ + sq / 2), y1=fy(ry_ - sq / 2), fillcolor=col,
                           line=dict(color="#333333", width=1), layer="above"))
        annotations.append(dict(x=fx(lx1 + g["ldx"]), y=fy(ry_), xref="paper", yref="paper", text=txt,
                                showarrow=False, xanchor="left", yanchor="middle",
                                font=dict(family="DejaVu Sans, Verdana, sans-serif", size=g["lfont"],
                                          color="#2a2a2a")))
    # axis titles
    ipx, ipy, ips = g["ip"]
    annotations.append(dict(x=fx(ipx), y=fy(ipy), xref="paper", yref="paper", text="Infection process",
                            textangle=-90, showarrow=False, xanchor="center", yanchor="middle",
                            font=dict(family=NARROW, size=ips, color="#222", weight="bold")))
    sx, sy, ss, stxt = g["su"]
    annotations.append(dict(x=fx(sx), y=fy(sy), xref="paper", yref="paper", text=stxt, textangle=-90,
                            showarrow=False, xanchor="center", yanchor="middle",
                            font=dict(family=NARROW, size=ss, color="#222", weight="bold")))

# ---------------- table lines ----------------
TABLE_LINES = [((6, 7), (6, 1677)), ((6, 7), (1115, 7)), ((6, 321), (1115, 321)), ((173, 321), (173, 594)),
               ((6, 594), (269, 594)), ((269, 594), (269, 864)), ((6, 864), (1115, 864)),
               ((177, 864), (177, 1103)), ((6, 1103), (1115, 1103)), ((269, 1103), (269, 1379)),
               ((6, 1379), (269, 1379)), ((269, 1379), (269, 1677))]
for (x0, y0), (x1, y1) in TABLE_LINES:
    shapes.append(dict(type="line", xref="paper", yref="paper", x0=fx(x0), y0=fy(y0), x1=fx(x1), y1=fy(y1),
                       line=dict(color="black", width=2), layer="above"))

for txt, yy in zip(ROW_LABELS, [559, 832, 1064, 1342, 1618]):
    annotations.append(dict(x=fx(19), y=fy(yy), xref="paper", yref="paper", text=txt, showarrow=False,
                            xanchor="left", yanchor="middle",
                            font=dict(family="Liberation Serif, Times New Roman, serif", size=30, color="black")))

# country boxes
for txt, (bx0, by0, bx1, by1), tx in zip(BOX_LABELS, [(856, 76, 1079, 128), (872, 373, 1079, 425)], [873, 889]):
    shapes.append(dict(type="rect", xref="paper", yref="paper", x0=fx(bx0), x1=fx(bx1), y0=fy(by1), y1=fy(by0),
                       line=dict(color="black", width=1.5), layer="above"))
    annotations.append(dict(x=fx(tx), y=fy((by0 + by1) / 2 - 2), xref="paper", yref="paper", text=txt,
                            showarrow=False, xanchor="left", yanchor="middle",
                            font=dict(family="Liberation Serif, Times New Roman, serif", size=32, color="black",
                                      weight="bold")))

# red vertical line
shapes.append(dict(type="line", xref="paper", yref="paper", x0=fx(989), x1=fx(989), y0=fy(155), y1=fy(1647),
                   line=dict(color="#FF0000", width=3), layer="above"))

layout.update(shapes=shapes, annotations=annotations, images=images)
fig.update_layout(**layout)
fig.update_traces(showlegend=False)

fig.write_html("out.html", config={"displayModeBar": False, "responsive": False},
               post_script="document.body.style.margin='0px';document.body.style.overflow='hidden';")
